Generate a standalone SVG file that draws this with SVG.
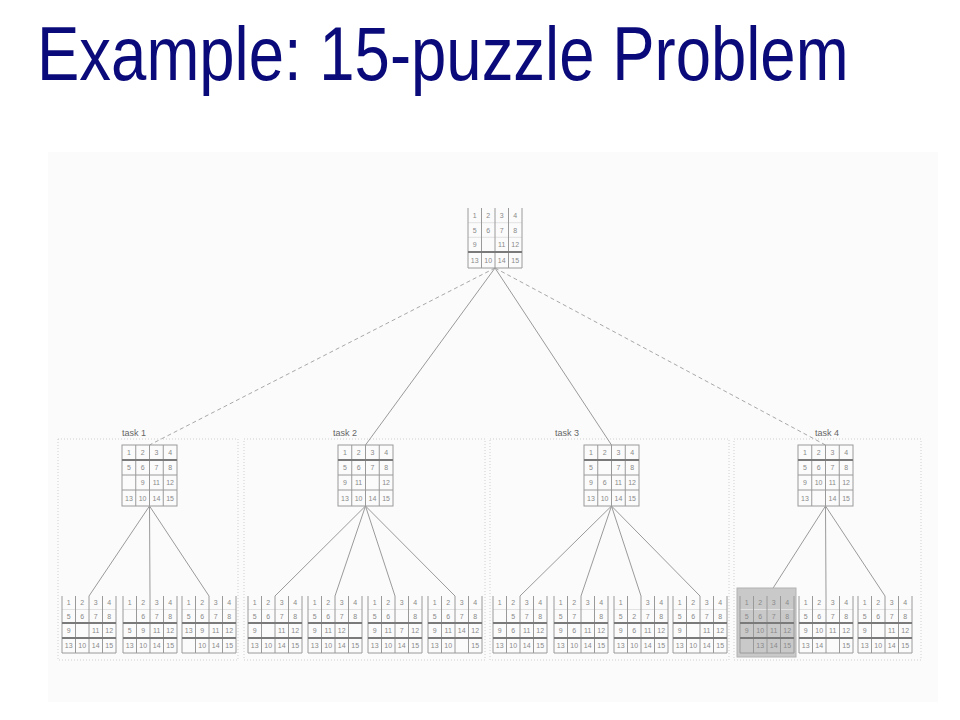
<svg xmlns="http://www.w3.org/2000/svg" xmlns:xlink="http://www.w3.org/1999/xlink" width="960" height="720" viewBox="0 0 960 720">
<style>
.title{font-family:"Liberation Sans",Arial,sans-serif;font-size:63.5px;fill:#0a0a7a}
.lbl{font-family:"Liberation Sans",Arial,sans-serif;font-size:9px;fill:#666}
.n{font-family:"Liberation Sans",Arial,sans-serif;font-size:7px;fill:#8a8a8a;text-anchor:middle}
.gl{stroke:#9a9a9a;stroke-width:1;fill:none}
.gk{stroke:#7a7a7a;stroke-width:2;fill:none}
.gf{stroke:#e2e2e2;stroke-width:1;fill:none}
.box{fill:none;stroke:#cfcfcf;stroke-width:1;stroke-dasharray:1 2}
.e{stroke:#9a9a9a;stroke-width:1;fill:none}
.ed{stroke:#a8a8a8;stroke-width:1;fill:none;stroke-dasharray:4 3}
</style>
<defs>
<g id="gTop">
<path class="gf" d="M0 14.7H54M0 29.3H54"/>
<path class="gl" d="M0 0V60M13.5 0V60M27 0V60M40.5 0V60M54 0V60M0 60H54"/>
<path class="gk" d="M0 44H54"/>
</g>
<g id="gTask">
<rect class="gl" x="0" y="0" width="55" height="61"/>
<path class="gl" d="M13.75 0V61M27.5 0V61M41.25 0V61M0 30H55M0 45H55"/>
<path class="gk" d="M0 15H55"/>
</g>
<g id="gLeaf">
<path class="gf" d="M0 13.5H54"/>
<path class="gl" d="M0 0V57M13.5 0V57M27 0V57M40.5 0V57M54 0V57M0 57H54"/>
<path class="gk" d="M0 27H54M0 42H54"/>
</g>
</defs>

<rect x="48" y="152" width="890" height="550" fill="#fbfbfb"/>
<text class="title" transform="translate(37,80) scale(1,1.197)" x="0" y="0">Example: 15-puzzle Problem</text>

<g id="taskboxes">
<rect class="box" x="58" y="439" width="180" height="221"/>
<rect class="box" x="244" y="439" width="241" height="221"/>
<rect class="box" x="490" y="439" width="239" height="221"/>
<rect class="box" x="734" y="439" width="187" height="221"/>
<text class="lbl" x="122" y="436">task 1</text>
<text class="lbl" x="333" y="436">task 2</text>
<text class="lbl" x="555" y="436">task 3</text>
<text class="lbl" x="815" y="436">task 4</text>
</g>

<g id="connectors">
<path class="ed" d="M495 268L149.5 445"/>
<path class="e" d="M495 268L365.5 445"/>
<path class="e" d="M495 268L611.5 445"/>
<path class="ed" d="M495 268L825.5 445"/>
<path class="e" d="M149.5 506L89 596M149.5 506L150 596M149.5 506L209 596"/>
<path class="e" d="M365.5 506L275 596M365.5 506L335 596M365.5 506L395 596M365.5 506L455 596"/>
<path class="e" d="M611.5 506L520 596M611.5 506L581 596M611.5 506L641 596M611.5 506L700 596"/>
<path class="e" d="M825.5 506L768 596M825.5 506L826 596M825.5 506L885 596"/>
</g>

<g id="root" transform="translate(468,208)">
<use href="#gTop"/>
<text class="n" y="10"><tspan x="6.75">1</tspan><tspan x="20.25">2</tspan><tspan x="33.75">3</tspan><tspan x="47.25">4</tspan></text>
<text class="n" y="24.5"><tspan x="6.75">5</tspan><tspan x="20.25">6</tspan><tspan x="33.75">7</tspan><tspan x="47.25">8</tspan></text>
<text class="n" y="39"><tspan x="6.75">9</tspan><tspan x="33.75">11</tspan><tspan x="47.25">12</tspan></text>
<text class="n" y="54.5"><tspan x="6.75">13</tspan><tspan x="20.25">10</tspan><tspan x="33.75">14</tspan><tspan x="47.25">15</tspan></text>
</g>

<g id="task1" transform="translate(122,445)">
<use href="#gTask"/>
<text class="n" y="10"><tspan x="6.9">1</tspan><tspan x="20.6">2</tspan><tspan x="34.4">3</tspan><tspan x="48.1">4</tspan></text>
<text class="n" y="25"><tspan x="6.9">5</tspan><tspan x="20.6">6</tspan><tspan x="34.4">7</tspan><tspan x="48.1">8</tspan></text>
<text class="n" y="40"><tspan x="20.6">9</tspan><tspan x="34.4">11</tspan><tspan x="48.1">12</tspan></text>
<text class="n" y="55.5"><tspan x="6.9">13</tspan><tspan x="20.6">10</tspan><tspan x="34.4">14</tspan><tspan x="48.1">15</tspan></text>
</g>

<g id="task2" transform="translate(338,445)">
<use href="#gTask"/>
<text class="n" y="10"><tspan x="6.9">1</tspan><tspan x="20.6">2</tspan><tspan x="34.4">3</tspan><tspan x="48.1">4</tspan></text>
<text class="n" y="25"><tspan x="6.9">5</tspan><tspan x="20.6">6</tspan><tspan x="34.4">7</tspan><tspan x="48.1">8</tspan></text>
<text class="n" y="40"><tspan x="6.9">9</tspan><tspan x="20.6">11</tspan><tspan x="48.1">12</tspan></text>
<text class="n" y="55.5"><tspan x="6.9">13</tspan><tspan x="20.6">10</tspan><tspan x="34.4">14</tspan><tspan x="48.1">15</tspan></text>
</g>

<g id="task3" transform="translate(584,445)">
<use href="#gTask"/>
<text class="n" y="10"><tspan x="6.9">1</tspan><tspan x="20.6">2</tspan><tspan x="34.4">3</tspan><tspan x="48.1">4</tspan></text>
<text class="n" y="25"><tspan x="6.9">5</tspan><tspan x="34.4">7</tspan><tspan x="48.1">8</tspan></text>
<text class="n" y="40"><tspan x="6.9">9</tspan><tspan x="20.6">6</tspan><tspan x="34.4">11</tspan><tspan x="48.1">12</tspan></text>
<text class="n" y="55.5"><tspan x="6.9">13</tspan><tspan x="20.6">10</tspan><tspan x="34.4">14</tspan><tspan x="48.1">15</tspan></text>
</g>

<g id="task4" transform="translate(798,445)">
<use href="#gTask"/>
<text class="n" y="10"><tspan x="6.9">1</tspan><tspan x="20.6">2</tspan><tspan x="34.4">3</tspan><tspan x="48.1">4</tspan></text>
<text class="n" y="25"><tspan x="6.9">5</tspan><tspan x="20.6">6</tspan><tspan x="34.4">7</tspan><tspan x="48.1">8</tspan></text>
<text class="n" y="40"><tspan x="6.9">9</tspan><tspan x="20.6">10</tspan><tspan x="34.4">11</tspan><tspan x="48.1">12</tspan></text>
<text class="n" y="55.5"><tspan x="6.9">13</tspan><tspan x="34.4">14</tspan><tspan x="48.1">15</tspan></text>
</g>

<g id="leaf1a" transform="translate(62,596)">
<use href="#gLeaf"/>
<text class="n" y="9"><tspan x="6.75">1</tspan><tspan x="20.25">2</tspan><tspan x="33.75">3</tspan><tspan x="47.25">4</tspan></text>
<text class="n" y="22.5"><tspan x="6.75">5</tspan><tspan x="20.25">6</tspan><tspan x="33.75">7</tspan><tspan x="47.25">8</tspan></text>
<text class="n" y="37"><tspan x="6.75">9</tspan><tspan x="33.75">11</tspan><tspan x="47.25">12</tspan></text>
<text class="n" y="52"><tspan x="6.75">13</tspan><tspan x="20.25">10</tspan><tspan x="33.75">14</tspan><tspan x="47.25">15</tspan></text>
</g>

<g id="leaf1b" transform="translate(123,596)">
<use href="#gLeaf"/>
<text class="n" y="9"><tspan x="6.75">1</tspan><tspan x="20.25">2</tspan><tspan x="33.75">3</tspan><tspan x="47.25">4</tspan></text>
<text class="n" y="22.5"><tspan x="20.25">6</tspan><tspan x="33.75">7</tspan><tspan x="47.25">8</tspan></text>
<text class="n" y="37"><tspan x="6.75">5</tspan><tspan x="20.25">9</tspan><tspan x="33.75">11</tspan><tspan x="47.25">12</tspan></text>
<text class="n" y="52"><tspan x="6.75">13</tspan><tspan x="20.25">10</tspan><tspan x="33.75">14</tspan><tspan x="47.25">15</tspan></text>
</g>

<g id="leaf1c" transform="translate(182,596)">
<use href="#gLeaf"/>
<text class="n" y="9"><tspan x="6.75">1</tspan><tspan x="20.25">2</tspan><tspan x="33.75">3</tspan><tspan x="47.25">4</tspan></text>
<text class="n" y="22.5"><tspan x="6.75">5</tspan><tspan x="20.25">6</tspan><tspan x="33.75">7</tspan><tspan x="47.25">8</tspan></text>
<text class="n" y="37"><tspan x="6.75">13</tspan><tspan x="20.25">9</tspan><tspan x="33.75">11</tspan><tspan x="47.25">12</tspan></text>
<text class="n" y="52"><tspan x="20.25">10</tspan><tspan x="33.75">14</tspan><tspan x="47.25">15</tspan></text>
</g>

<g id="leaf2a" transform="translate(248,596)">
<use href="#gLeaf"/>
<text class="n" y="9"><tspan x="6.75">1</tspan><tspan x="20.25">2</tspan><tspan x="33.75">3</tspan><tspan x="47.25">4</tspan></text>
<text class="n" y="22.5"><tspan x="6.75">5</tspan><tspan x="20.25">6</tspan><tspan x="33.75">7</tspan><tspan x="47.25">8</tspan></text>
<text class="n" y="37"><tspan x="6.75">9</tspan><tspan x="33.75">11</tspan><tspan x="47.25">12</tspan></text>
<text class="n" y="52"><tspan x="6.75">13</tspan><tspan x="20.25">10</tspan><tspan x="33.75">14</tspan><tspan x="47.25">15</tspan></text>
</g>

<g id="leaf2b" transform="translate(308,596)">
<use href="#gLeaf"/>
<text class="n" y="9"><tspan x="6.75">1</tspan><tspan x="20.25">2</tspan><tspan x="33.75">3</tspan><tspan x="47.25">4</tspan></text>
<text class="n" y="22.5"><tspan x="6.75">5</tspan><tspan x="20.25">6</tspan><tspan x="33.75">7</tspan><tspan x="47.25">8</tspan></text>
<text class="n" y="37"><tspan x="6.75">9</tspan><tspan x="20.25">11</tspan><tspan x="33.75">12</tspan></text>
<text class="n" y="52"><tspan x="6.75">13</tspan><tspan x="20.25">10</tspan><tspan x="33.75">14</tspan><tspan x="47.25">15</tspan></text>
</g>

<g id="leaf2c" transform="translate(368,596)">
<use href="#gLeaf"/>
<text class="n" y="9"><tspan x="6.75">1</tspan><tspan x="20.25">2</tspan><tspan x="33.75">3</tspan><tspan x="47.25">4</tspan></text>
<text class="n" y="22.5"><tspan x="6.75">5</tspan><tspan x="20.25">6</tspan><tspan x="47.25">8</tspan></text>
<text class="n" y="37"><tspan x="6.75">9</tspan><tspan x="20.25">11</tspan><tspan x="33.75">7</tspan><tspan x="47.25">12</tspan></text>
<text class="n" y="52"><tspan x="6.75">13</tspan><tspan x="20.25">10</tspan><tspan x="33.75">14</tspan><tspan x="47.25">15</tspan></text>
</g>

<g id="leaf2d" transform="translate(428,596)">
<use href="#gLeaf"/>
<text class="n" y="9"><tspan x="6.75">1</tspan><tspan x="20.25">2</tspan><tspan x="33.75">3</tspan><tspan x="47.25">4</tspan></text>
<text class="n" y="22.5"><tspan x="6.75">5</tspan><tspan x="20.25">6</tspan><tspan x="33.75">7</tspan><tspan x="47.25">8</tspan></text>
<text class="n" y="37"><tspan x="6.75">9</tspan><tspan x="20.25">11</tspan><tspan x="33.75">14</tspan><tspan x="47.25">12</tspan></text>
<text class="n" y="52"><tspan x="6.75">13</tspan><tspan x="20.25">10</tspan><tspan x="47.25">15</tspan></text>
</g>

<g id="leaf3a" transform="translate(493,596)">
<use href="#gLeaf"/>
<text class="n" y="9"><tspan x="6.75">1</tspan><tspan x="20.25">2</tspan><tspan x="33.75">3</tspan><tspan x="47.25">4</tspan></text>
<text class="n" y="22.5"><tspan x="20.25">5</tspan><tspan x="33.75">7</tspan><tspan x="47.25">8</tspan></text>
<text class="n" y="37"><tspan x="6.75">9</tspan><tspan x="20.25">6</tspan><tspan x="33.75">11</tspan><tspan x="47.25">12</tspan></text>
<text class="n" y="52"><tspan x="6.75">13</tspan><tspan x="20.25">10</tspan><tspan x="33.75">14</tspan><tspan x="47.25">15</tspan></text>
</g>

<g id="leaf3b" transform="translate(554,596)">
<use href="#gLeaf"/>
<text class="n" y="9"><tspan x="6.75">1</tspan><tspan x="20.25">2</tspan><tspan x="33.75">3</tspan><tspan x="47.25">4</tspan></text>
<text class="n" y="22.5"><tspan x="6.75">5</tspan><tspan x="20.25">7</tspan><tspan x="47.25">8</tspan></text>
<text class="n" y="37"><tspan x="6.75">9</tspan><tspan x="20.25">6</tspan><tspan x="33.75">11</tspan><tspan x="47.25">12</tspan></text>
<text class="n" y="52"><tspan x="6.75">13</tspan><tspan x="20.25">10</tspan><tspan x="33.75">14</tspan><tspan x="47.25">15</tspan></text>
</g>

<g id="leaf3c" transform="translate(614,596)">
<use href="#gLeaf"/>
<text class="n" y="9"><tspan x="6.75">1</tspan><tspan x="33.75">3</tspan><tspan x="47.25">4</tspan></text>
<text class="n" y="22.5"><tspan x="6.75">5</tspan><tspan x="20.25">2</tspan><tspan x="33.75">7</tspan><tspan x="47.25">8</tspan></text>
<text class="n" y="37"><tspan x="6.75">9</tspan><tspan x="20.25">6</tspan><tspan x="33.75">11</tspan><tspan x="47.25">12</tspan></text>
<text class="n" y="52"><tspan x="6.75">13</tspan><tspan x="20.25">10</tspan><tspan x="33.75">14</tspan><tspan x="47.25">15</tspan></text>
</g>

<g id="leaf3d" transform="translate(673,596)">
<use href="#gLeaf"/>
<text class="n" y="9"><tspan x="6.75">1</tspan><tspan x="20.25">2</tspan><tspan x="33.75">3</tspan><tspan x="47.25">4</tspan></text>
<text class="n" y="22.5"><tspan x="6.75">5</tspan><tspan x="20.25">6</tspan><tspan x="33.75">7</tspan><tspan x="47.25">8</tspan></text>
<text class="n" y="37"><tspan x="6.75">9</tspan><tspan x="33.75">11</tspan><tspan x="47.25">12</tspan></text>
<text class="n" y="52"><tspan x="6.75">13</tspan><tspan x="20.25">10</tspan><tspan x="33.75">14</tspan><tspan x="47.25">15</tspan></text>
</g>

<g id="leaf4a">
<rect x="737" y="588" width="59" height="69" fill="#c9c9c9" stroke="#b2b2b2" stroke-width="1"/>
<g transform="translate(740,596)">
<use href="#gLeaf"/>
<text class="n" y="9"><tspan x="6.75">1</tspan><tspan x="20.25">2</tspan><tspan x="33.75">3</tspan><tspan x="47.25">4</tspan></text>
<text class="n" y="22.5"><tspan x="6.75">5</tspan><tspan x="20.25">6</tspan><tspan x="33.75">7</tspan><tspan x="47.25">8</tspan></text>
<text class="n" y="37"><tspan x="6.75">9</tspan><tspan x="20.25">10</tspan><tspan x="33.75">11</tspan><tspan x="47.25">12</tspan></text>
<text class="n" y="52"><tspan x="20.25">13</tspan><tspan x="33.75">14</tspan><tspan x="47.25">15</tspan></text>
</g>
</g>

<g id="leaf4b" transform="translate(799,596)">
<use href="#gLeaf"/>
<text class="n" y="9"><tspan x="6.75">1</tspan><tspan x="20.25">2</tspan><tspan x="33.75">3</tspan><tspan x="47.25">4</tspan></text>
<text class="n" y="22.5"><tspan x="6.75">5</tspan><tspan x="20.25">6</tspan><tspan x="33.75">7</tspan><tspan x="47.25">8</tspan></text>
<text class="n" y="37"><tspan x="6.75">9</tspan><tspan x="20.25">10</tspan><tspan x="33.75">11</tspan><tspan x="47.25">12</tspan></text>
<text class="n" y="52"><tspan x="6.75">13</tspan><tspan x="20.25">14</tspan><tspan x="47.25">15</tspan></text>
</g>

<g id="leaf4c" transform="translate(858,596)">
<use href="#gLeaf"/>
<text class="n" y="9"><tspan x="6.75">1</tspan><tspan x="20.25">2</tspan><tspan x="33.75">3</tspan><tspan x="47.25">4</tspan></text>
<text class="n" y="22.5"><tspan x="6.75">5</tspan><tspan x="20.25">6</tspan><tspan x="33.75">7</tspan><tspan x="47.25">8</tspan></text>
<text class="n" y="37"><tspan x="6.75">9</tspan><tspan x="33.75">11</tspan><tspan x="47.25">12</tspan></text>
<text class="n" y="52"><tspan x="6.75">13</tspan><tspan x="20.25">10</tspan><tspan x="33.75">14</tspan><tspan x="47.25">15</tspan></text>
</g>
</svg>
